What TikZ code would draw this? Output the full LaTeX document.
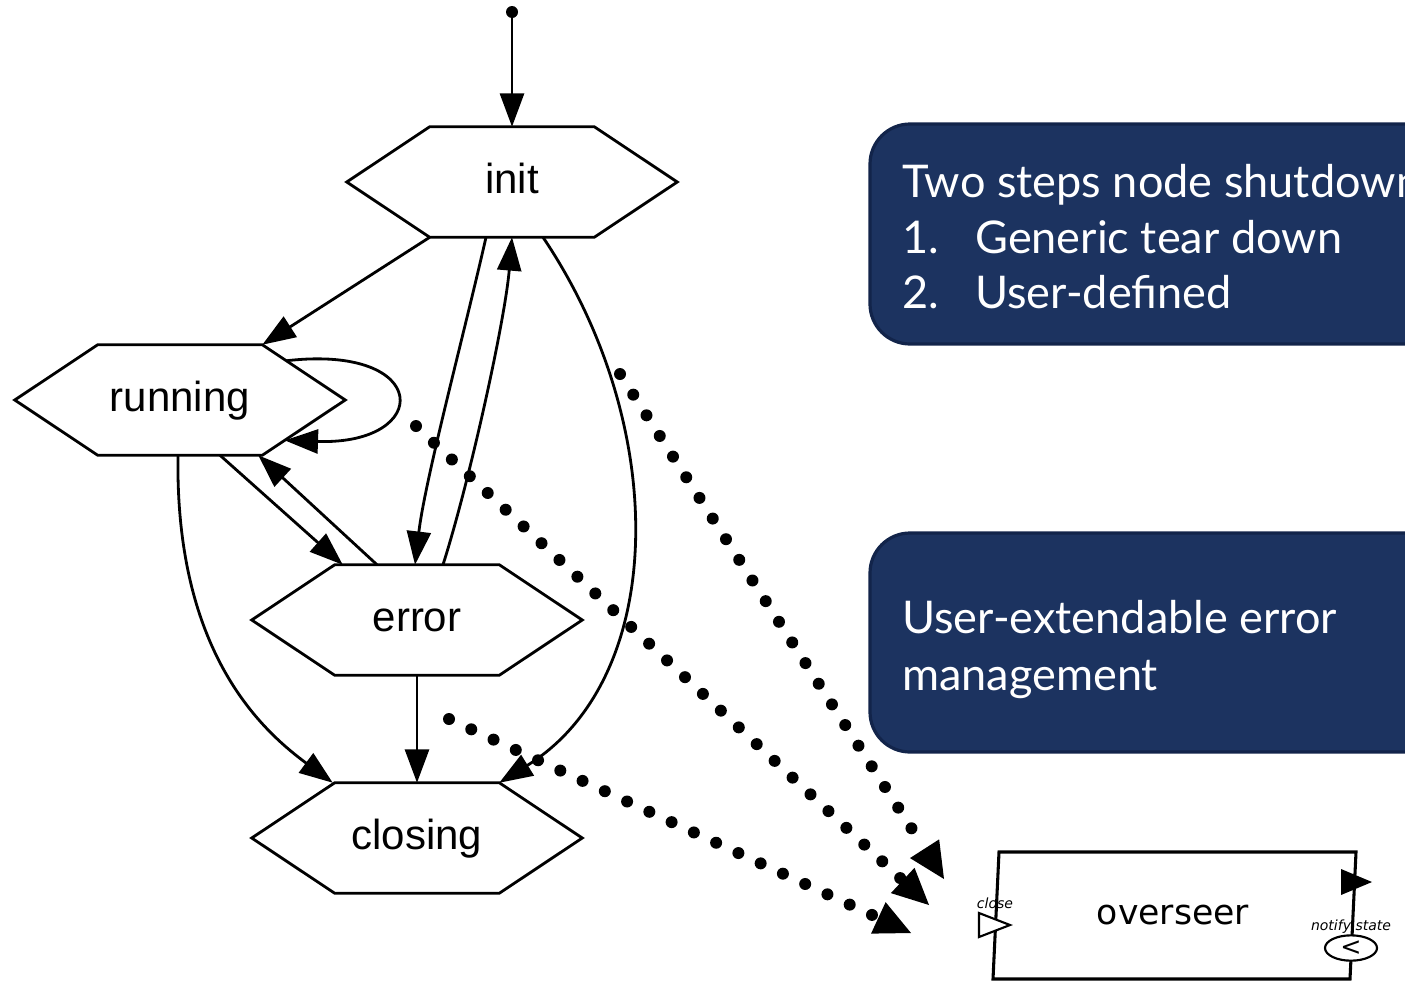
\documentclass[tikz,border=0pt]{standalone}
\usepackage{fontspec}
\setmainfont{Liberation Sans}
\newfontfamily\boxfont{Lato}
\newfontfamily\portfont{DejaVu Sans}
\usetikzlibrary{arrows.meta,calc,shapes.geometric}
\definecolor{navy}{HTML}{1C3360}
\definecolor{navyedge}{HTML}{12244A}
\newcommand\hexstate[3]{%
  \node[hexlbl] (#1) at (#2) {#3};
  \draw[hexline] (#1.west) -- ([xshift=62.25pt]#1.north west) -- ([xshift=-62.25pt]#1.north east)
    -- (#1.east) -- ([xshift=-62.25pt]#1.south east) -- ([xshift=62.25pt]#1.south west) -- cycle;}
\begin{document}
\begin{tikzpicture}[x=0.75pt,y=-0.75pt,
  hexlbl/.style={minimum width=247.5pt, minimum height=82.5pt, inner sep=0pt,
     font=\fontsize{31.5}{36}\selectfont, text height=17pt, text depth=0pt},
  hexline/.style={line width=2.1pt, line join=miter},
  edge/.style={line width=2.1pt, -{Triangle[length=25pt,width=18pt]}},
  dotarrow/.style={line width=9pt, line cap=round, dash pattern=on 0pt off 18.4pt,
     -{Triangle[length=27pt,width=26pt,line width=0pt]}},
  bluebox/.style={fill=navy, draw=navyedge, line width=2.4pt, rounded corners=30pt},
  boxtext/.style={text=white, anchor=base west, inner sep=0pt, font=\boxfont\fontsize{33.8}{40}\selectfont},
  porttext/.style={inner sep=0pt, anchor=base, font=\portfont\itshape\fontsize{10.5}{12}\selectfont}
]
\useasboundingbox (0,0) rectangle (1405,982);
\clip (0,0) rectangle (1405,982);

% blue annotation boxes
\path[bluebox] (870,124) rectangle (1460,344);
\path[bluebox] (870,533) rectangle (1460,752);
\node[boxtext] (t1) at (902,197) {Two steps node shutdown};
\node[boxtext] (t2a) at (902,253) {1.};
\node[boxtext] (t2b) at (975,253) {Generic tear down};
\node[boxtext] (t3a) at (902,308) {2.};
\node[boxtext] (t3b) at (975,308) {User-defined};
\node[boxtext] (u1) at (902,633) {User-extendable error};
\node[boxtext] (u2) at (902,690) {management};

% states
\hexstate{init}{512,182}{init}
\hexstate{running}{180,400}{running}
\hexstate{error}{417,620}{error}
\hexstate{closing}{417,838}{closing}

\node[circle, fill, inner sep=0pt, minimum size=9pt] (start) at (512,12) {};
\draw[edge] (start) -- (init.north);

\draw[edge] ([xshift=62.25pt]init.south west) -- ([xshift=-62.25pt]running.north east);
\draw[edge] ([xshift=-19.5pt]init.south) .. controls +(-21,93) and +(10,-85) .. ([xshift=-1.5pt]error.north);
\draw[edge] ([xshift=19.5pt]error.north) .. controls +(27,-85) and +(-7,83) .. (init.south);
\draw[edge] ([xshift=23.25pt]init.south) .. controls +(128,190) and +(168,-104) .. ([xshift=-62.25pt]closing.north east);

\coordinate (rNE) at ([xshift=-62.25pt]running.north east);
\coordinate (rSE) at ([xshift=-62.25pt]running.south east);
\draw[edge] ($(rNE)!0.29!(running.east)$) .. controls +(146,-17) and +(148,5) .. ($(running.east)!0.73!(rSE)$);
\draw[edge] ([xshift=30pt]running.south) -- ([xshift=68.25pt]error.north west);
\draw[edge] ([xshift=-30pt]error.north) -- ([xshift=-65.25pt]running.south east);
\draw[edge] ([xshift=-1.5pt]running.south) .. controls +(-3,195) and +(-73,-54) .. ([xshift=60.75pt]closing.north west);
\draw[edge] (error.south) -- (closing.north);

% overseer block
\coordinate (oTL) at (999,852);
\coordinate (oTR) at (1356,852);
\coordinate (oBR) at (1350,979);
\coordinate (oBL) at (993,979);
\draw[line width=2.3pt, line join=miter] (oTL) -- (oTR) -- (oBR) -- (oBL) -- cycle;
\node[inner sep=0pt, anchor=base, font=\portfont\fontsize{26}{30}\selectfont] (overseer) at (1173,924) {overseer};
\draw[fill=white, line width=1.6pt, line join=miter] (979,913) -- (1010,925) -- (979,937) -- cycle;
\node[porttext] (closelbl) at (995,908) {close};
\fill (1341,869) -- (1372,882) -- (1341,895) -- cycle;
\node[porttext] (notifylbl) at (1351,930) {notify state};
\node[draw, fill=white, ellipse, line width=1.6pt, minimum width=39pt, minimum height=19pt, inner sep=0pt,
      font=\portfont\fontsize{19}{19}\selectfont] (notify) at (1351,948) {<};

% dotted links to overseer
\coordinate (dA) at (620,374);
\coordinate (dB) at (416,426);
\coordinate (dC) at (449,719);
\coordinate (tA) at (944,879);
\coordinate (tB) at (929,905);
\coordinate (tC) at (911,933);
\draw[dotarrow] (dA) -- (tA);
\draw[dotarrow] (dB) -- (tB);
\draw[dotarrow] (dC) -- (tC);
\end{tikzpicture}
\end{document}
